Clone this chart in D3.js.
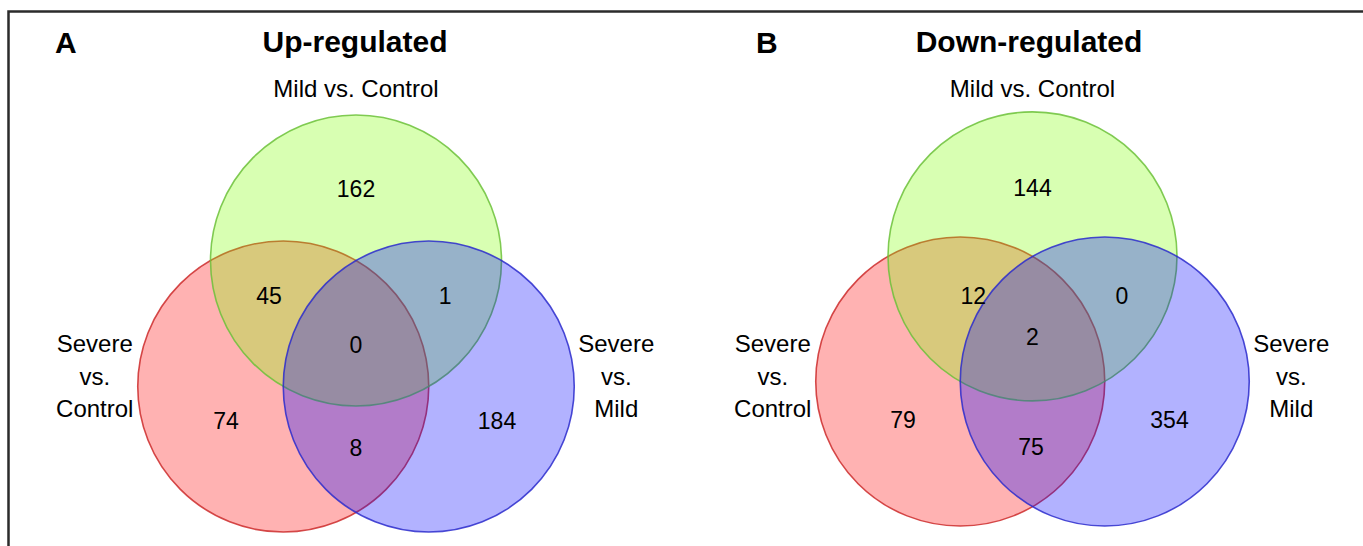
<!DOCTYPE html>
<html>
<head>
<meta charset="utf-8">
<script src="https://cdn.jsdelivr.net/npm/d3@7"></script>
<style>
  body { margin: 0; background: #fff; }
  svg { display: block; font-family: "Liberation Sans", Arial, sans-serif; }
</style>
</head>
<body>
<div id="chart"></div>
<script>
// sets, in draw order (red, green, blue)
const setNames = ["Severe vs. Control", "Mild vs. Control", "Severe vs. Mild"];
const setColors = ["#ff0000", "#7fff00", "#0000ff"];
const setStrokes = ["#cc2b2b", "#6cc13a", "#2b2bcc"];

// regions: SC only, MC only, SM only, SC&MC, MC&SM, SC&SM, all three
const regionKeys = ["SC", "MC", "SM", "SC_MC", "MC_SM", "SC_SM", "ALL"];
const upCounts = [74, 162, 184, 45, 1, 8, 0];
const downCounts = [79, 144, 354, 12, 0, 75, 2];

const panelLetters = ["A", "B"];
const panelTitles = ["Up-regulated", "Down-regulated"];

// layout (in units of radius, around centroid of the three centres)
const centreOffsets = [[-0.5, 0.2887], [0, -0.5774], [0.5, 0.2887]];
const panels = [
  { cx: 356, cy: 344.5, r: 145.5, titleX: 355, letterX: 55, counts: upCounts,
    labelOff: [[-0.893, 0.522], [0, -1.072], [0.969, 0.522], [-0.598, -0.333], [0.612, -0.333], [0, 0.71], [0, 0]] },
  { cx: 1032.5, cy: 339.8, r: 144.5, titleX: 1029, letterX: 756, counts: downCounts,
    labelOff: [[-0.896, 0.554], [0, -1.052], [0.948, 0.554], [-0.41, -0.304], [0.619, -0.304], [-0.01, 0.74], [0, -0.02]] }
];

const width = 1363, height = 546;
const svg = d3.select("#chart").append("svg")
  .attr("width", width)
  .attr("height", height);

// frame (top and left only)
svg.append("path")
  .attr("d", `M8.5,${height} V11.5 H${width}`)
  .attr("fill", "none")
  .attr("stroke", "#2b2b2b")
  .attr("stroke-width", 2.5);

panels.forEach((p, i) => {
  const x = d3.scaleLinear().domain([0, 1]).range([p.cx, p.cx + p.r]);
  const y = d3.scaleLinear().domain([0, 1]).range([p.cy, p.cy + p.r]);
  const g = svg.append("g").attr("class", "panel");

  g.append("text")
    .attr("x", p.letterX).attr("y", 53)
    .attr("font-size", 30).attr("font-weight", "bold")
    .text(panelLetters[i]);

  g.append("text")
    .attr("x", p.titleX).attr("y", 52)
    .attr("text-anchor", "middle")
    .attr("font-size", 30).attr("font-weight", "bold")
    .text(panelTitles[i]);

  g.selectAll("circle")
    .data(centreOffsets)
    .join("circle")
    .attr("cx", d => x(d[0]))
    .attr("cy", d => y(d[1]))
    .attr("r", p.r)
    .attr("fill", (d, j) => setColors[j])
    .attr("fill-opacity", 0.3)
    .attr("stroke", (d, j) => setStrokes[j])
    .attr("stroke-opacity", 0.85)
    .attr("stroke-width", 1.6);

  // set labels
  const red = centreOffsets[0], grn = centreOffsets[1], blu = centreOffsets[2];
  g.append("text")
    .attr("x", x(grn[0])).attr("y", 97)
    .attr("text-anchor", "middle").attr("font-size", 24)
    .text(setNames[1]);

  const sideLabel = (name, xc) => {
    const parts = name.split(" ");
    const lines = [parts[0], parts[1], parts.slice(2).join(" ")];
    g.append("text")
      .attr("text-anchor", "middle").attr("font-size", 24)
      .selectAll("tspan")
      .data(lines)
      .join("tspan")
      .attr("x", xc)
      .attr("y", (d, k) => 352 + k * 32.5)
      .text(d => d);
  };
  sideLabel(setNames[0], x(red[0] - 1) - 43);
  sideLabel(setNames[2], x(blu[0] + 1) + 42);

  // counts
  g.selectAll("text.count")
    .data(p.counts)
    .join("text")
    .attr("class", "count")
    .attr("x", (d, k) => x(p.labelOff[k][0]))
    .attr("y", (d, k) => y(p.labelOff[k][1]))
    .attr("dy", "0.36em")
    .attr("text-anchor", "middle")
    .attr("font-size", 23)
    .text(d => d);
});
</script>
</body>
</html>
